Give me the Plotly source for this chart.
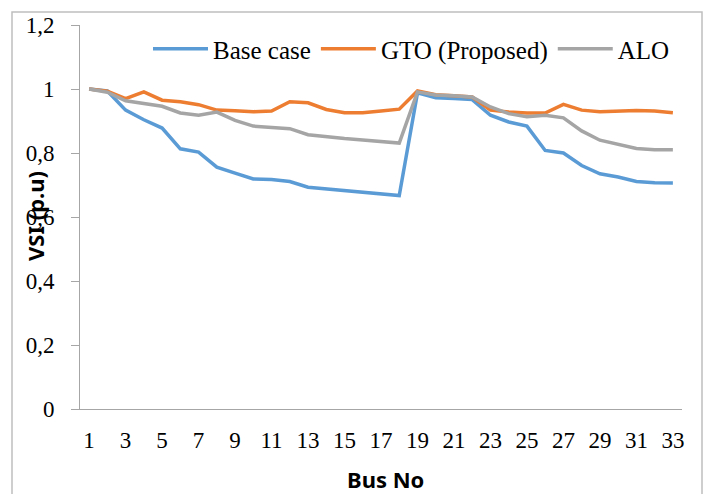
import plotly.graph_objects as go

bus = list(range(1, 34))
base_case = [1.0, 0.994, 0.934, 0.904, 0.878, 0.813, 0.803, 0.756, 0.737, 0.719, 0.717,
             0.711, 0.693, 0.688, 0.683, 0.678, 0.672, 0.667, 0.988, 0.973, 0.970, 0.967,
             0.918, 0.897, 0.884, 0.808, 0.800, 0.761, 0.735, 0.725, 0.711, 0.707, 0.706]
gto = [1.0, 0.993, 0.970, 0.991, 0.965, 0.960, 0.951, 0.934, 0.932, 0.929, 0.931,
       0.960, 0.957, 0.936, 0.926, 0.926, 0.931, 0.937, 0.994, 0.982, 0.979, 0.975,
       0.934, 0.928, 0.925, 0.925, 0.952, 0.934, 0.929, 0.931, 0.933, 0.931, 0.926]
alo = [1.0, 0.990, 0.963, 0.955, 0.946, 0.925, 0.918, 0.928, 0.902, 0.884, 0.881,
       0.876, 0.857, 0.850, 0.845, 0.841, 0.835, 0.831, 0.991, 0.981, 0.979, 0.975,
       0.944, 0.923, 0.913, 0.918, 0.910, 0.869, 0.840, 0.827, 0.814, 0.810, 0.810]
x_ticks = list(range(1, 34, 2))
y_ticks = [0, 0.2, 0.4, 0.6, 0.8, 1.0, 1.2]
y_labels = ["0", "0,2", "0,4", "0,6", "0,8", "1", "1,2"]

fig = go.Figure()
for name, vals, col in [("Base case", base_case, "#5B9BD5"),
                        ("GTO (Proposed)", gto, "#ED7D31"),
                        ("ALO", alo, "#A5A5A5")]:
    fig.add_trace(go.Scatter(x=bus, y=vals, mode="lines", name=name,
                             line=dict(color=col, width=3.5)))

serif = "Liberation Serif, Times New Roman, serif"
sans = "Noto Sans, sans-serif"
L, R, T, B = 80, 682, 25, 409
W, H = 710, 494
pw, ph = R - L, B - T

fig.update_layout(
    width=W, height=H,
    margin=dict(l=L, r=W - R, t=T, b=H - B),
    paper_bgcolor="white", plot_bgcolor="white",
    font=dict(family=serif, size=23, color="black"),
    showlegend=True,
    legend=dict(orientation="h", x=(148 - L) / pw, xanchor="left",
                y=(B - 49) / ph, yanchor="middle",
                font=dict(family=serif, size=25, color="black"),
                bgcolor="rgba(0,0,0,0)", tracegroupgap=0, itemwidth=55),
    xaxis=dict(range=[0.5, 33.5], tickvals=x_ticks, ticktext=[str(v) for v in x_ticks],
               showgrid=False, zeroline=False, showline=True, linecolor="#A6A6A6",
               linewidth=1, ticks="", tickfont=dict(family=serif, size=23),
               ticklabelstandoff=10, automargin=False),
    yaxis=dict(range=[0, 1.2], tickvals=y_ticks, ticktext=y_labels,
               showgrid=False, zeroline=False, showline=True, linecolor="#A6A6A6",
               linewidth=1, ticks="outside", ticklen=8, tickcolor="#A6A6A6",
               tickfont=dict(family=serif, size=23), ticklabelstandoff=12,
               automargin=False),
)
fig.add_annotation(text="<b>Bus No</b>", xref="paper", yref="paper",
                   x=(385 - L) / pw, y=(B - 479) / ph, showarrow=False,
                   xanchor="center", yanchor="middle",
                   font=dict(family=sans, size=22, color="black"))
fig.add_annotation(text="<b>VSI (p.u)</b>", xref="paper", yref="paper",
                   x=(35 - L) / pw, y=(B - 216) / ph, textangle=-90, showarrow=False,
                   xanchor="center", yanchor="middle",
                   font=dict(family=sans, size=22, color="black"))
fig.add_shape(type="rect", xref="paper", yref="paper",
              x0=(12 - L) / pw, x1=(702 - L) / pw,
              y0=(B - 540) / ph, y1=(B - 12) / ph,
              line=dict(color="#BFBFBF", width=1.5), fillcolor="rgba(0,0,0,0)", layer="above")
fig.write_html("out.html", config={"displayModeBar": False},
               post_script="document.body.style.margin='0';document.body.style.padding='0';")
